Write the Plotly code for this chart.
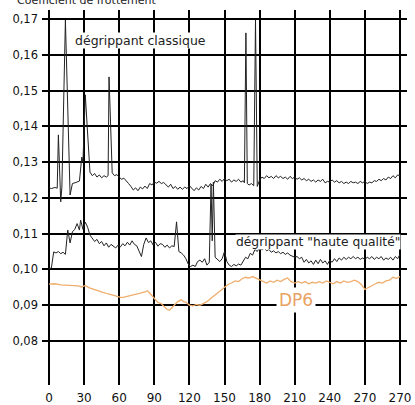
import plotly.graph_objects as go

# ---- data ----
tick_vals = [0, 30, 60, 90, 120, 150, 180, 210, 240, 270, 300]
tick_text = ["0", "30", "60", "90", "120", "150", "180", "210", "240", "270", "270"]

classique_x = [0, 2, 5, 7, 8, 10, 11, 14, 18, 20, 23, 26, 28, 29, 31, 35, 37, 39, 41, 43, 45, 47, 49, 50.5, 51.3, 54,
               56, 58, 60, 62, 64, 66, 68, 70, 72, 74, 76, 78, 80, 82, 84, 86, 88, 90, 92, 94, 96, 98, 100, 102, 104,
               106, 108, 110, 112, 114, 116, 118, 120, 122, 124, 126, 128, 130, 132, 134, 136, 138, 140, 142, 144,
               146, 148, 150, 152, 154, 156, 158, 160, 162, 164, 166, 167, 168.3, 169.5, 171, 173, 175, 176.5, 178,
               180, 182, 184, 186, 188, 190, 192, 194, 196, 198, 200, 202, 204, 206, 208, 210, 212, 214, 216, 218,
               220, 222, 224, 226, 228, 230, 232, 234, 236, 238, 240, 242, 244, 246, 248, 250, 252, 254, 256, 258,
               260, 262, 264, 266, 268, 270, 272, 274, 276, 278, 280, 282, 284, 286, 288, 290, 292, 294, 296, 298, 300]
classique_y = [0.1228, 0.1226, 0.1229, 0.1227, 0.1376, 0.1189, 0.1230, 0.1697, 0.1208, 0.1240, 0.1243, 0.1247,
               0.1314, 0.1300, 0.1488, 0.1272, 0.1262, 0.1268, 0.1258, 0.1264, 0.1256, 0.1262, 0.1258, 0.1262,
               0.1538, 0.1270, 0.1262, 0.1265, 0.1258, 0.1252, 0.1255, 0.1246, 0.1240, 0.1232, 0.1222, 0.1228,
               0.1220, 0.1230, 0.1225, 0.1233, 0.1226, 0.1240, 0.1236, 0.1244, 0.1241, 0.1246, 0.1240, 0.1243,
               0.1236, 0.1230, 0.1238, 0.1226, 0.1232, 0.1224, 0.1230, 0.1224, 0.1230, 0.1226, 0.1234, 0.1226,
               0.1220, 0.1228, 0.1222, 0.1232, 0.1226, 0.1238, 0.1230, 0.1240, 0.1234, 0.1248, 0.1244, 0.1252,
               0.1246, 0.1254, 0.1248, 0.1252, 0.1244, 0.1250, 0.1246, 0.1252, 0.1244, 0.1248, 0.1242, 0.1661,
               0.1240, 0.1236, 0.1240, 0.1234, 0.1697, 0.1232, 0.1250, 0.1258, 0.1254, 0.1262, 0.1256, 0.1260,
               0.1254, 0.1262, 0.1256, 0.1260, 0.1254, 0.1258, 0.1252, 0.1260, 0.1254, 0.1258, 0.1252, 0.1256,
               0.1250, 0.1254, 0.1248, 0.1252, 0.1246, 0.1250, 0.1244, 0.1250, 0.1246, 0.1252, 0.1242, 0.1246,
               0.1244, 0.1250, 0.1244, 0.1248, 0.1242, 0.1246, 0.1240, 0.1244, 0.1240, 0.1246, 0.1242, 0.1244,
               0.1240, 0.1246, 0.1242, 0.1246, 0.1240, 0.1244, 0.1242, 0.1248, 0.1246, 0.1252, 0.1248, 0.1254,
               0.1250, 0.1258, 0.1254, 0.1262, 0.1256, 0.1264, 0.1262]

haute_x = [0, 2, 4, 6, 8, 10, 12, 14, 16, 18, 20, 22, 24, 26, 27, 29, 31, 33, 35, 37, 39, 41, 43, 45, 47, 49, 51, 53,
           55, 57, 59, 61, 63, 65, 67, 69, 71, 73, 75, 77, 79, 81, 83, 85, 87, 89, 91, 93, 95, 97, 99, 101, 103, 105,
           107, 109, 111, 113, 115, 117, 119, 121, 123, 125, 127, 129, 131, 133, 135, 137, 138.5, 139.5, 140.5, 142,
           144, 146, 148, 150, 152, 154, 156, 158, 160, 162, 164, 166, 168, 170, 172, 174, 176, 178, 180, 182, 184,
           186, 188, 190, 192, 194, 196, 198, 200, 202, 204, 206, 208, 210, 212, 214, 216, 218, 220, 222, 224, 226,
           228, 230, 232, 234, 236, 238, 240, 242, 244, 246, 248, 250, 252, 254, 256, 258, 260, 262, 264, 266, 268,
           270, 272, 274, 276, 278, 280, 282, 284, 286, 288, 290, 292, 294, 296, 298, 300]
haute_y = [0.1002, 0.1004, 0.1049, 0.1046, 0.1050, 0.1044, 0.1048, 0.1042, 0.1110, 0.1074, 0.1105, 0.1112, 0.1128,
           0.1110, 0.1138, 0.1112, 0.1132, 0.1118, 0.1096, 0.1088, 0.1078, 0.1084, 0.1072, 0.1078, 0.1066, 0.1074,
           0.1062, 0.1070, 0.1064, 0.1060, 0.1068, 0.1063, 0.1072, 0.1066, 0.1076, 0.1068, 0.1080, 0.1070, 0.1066,
           0.1052, 0.1036, 0.1070, 0.1088, 0.1075, 0.1080, 0.1068, 0.1076, 0.1065, 0.1072, 0.1070, 0.1062, 0.1068,
           0.1060, 0.1066, 0.1064, 0.1133, 0.1050, 0.1046, 0.1040, 0.1030, 0.1015, 0.1008, 0.1012, 0.1008, 0.1022,
           0.1026, 0.1020, 0.1030, 0.1012, 0.1020, 0.1238, 0.1080, 0.1244, 0.1034, 0.1028, 0.1022, 0.1030, 0.1050,
           0.1022, 0.1012, 0.1008, 0.1014, 0.1010, 0.1015, 0.1012, 0.1022, 0.1034, 0.1030, 0.1045, 0.1040, 0.1056,
           0.1050, 0.1062, 0.1054, 0.1060, 0.1052, 0.1056, 0.1048, 0.1052, 0.1046, 0.1050, 0.1044, 0.1048, 0.1042,
           0.1046, 0.1040, 0.1036, 0.1034, 0.1036, 0.1030, 0.1034, 0.1020, 0.1028, 0.1018, 0.1024, 0.1014, 0.1026,
           0.1016, 0.1028, 0.1018, 0.1024, 0.1014, 0.1026, 0.1020, 0.1030, 0.1022, 0.1032, 0.1026, 0.1034, 0.1028,
           0.1034, 0.1030, 0.1036, 0.1030, 0.1034, 0.1028, 0.1032, 0.1028, 0.1034, 0.1030, 0.1036, 0.1028, 0.1034,
           0.1030, 0.1036, 0.1026, 0.1032, 0.1028, 0.1034, 0.1026, 0.1036, 0.1030, 0.1042]

dp6_x = [0, 5, 10, 15, 20, 25, 28, 31, 34, 38, 42, 46, 50, 54, 58, 62, 66, 70, 74, 78, 82, 84, 86, 90, 93, 96, 99,
         101, 103, 105, 107, 110, 113, 115, 117, 120, 123, 126, 129, 132, 135, 138, 141, 144, 147, 150, 153, 156,
         159, 162, 165, 168, 171, 174, 177, 180, 183, 186, 189, 192, 195, 198, 201, 204, 207, 210, 213, 216, 219,
         222, 225, 228, 231, 234, 237, 240, 243, 246, 249, 252, 255, 258, 261, 264, 267, 270, 273, 276, 279, 282,
         285, 288, 291, 294, 297, 300]
dp6_y = [0.0959, 0.0960, 0.0957, 0.0956, 0.0953, 0.0954, 0.0951, 0.0955, 0.0949, 0.0944, 0.0940, 0.0936, 0.0932,
         0.0928, 0.0925, 0.0921, 0.0924, 0.0928, 0.0930, 0.0934, 0.0937, 0.0940, 0.0934, 0.0920, 0.0908, 0.0904,
         0.0896, 0.0888, 0.0886, 0.0893, 0.0900, 0.0910, 0.0915, 0.0910, 0.0908, 0.0900, 0.0898, 0.0902, 0.0900,
         0.0904, 0.0910, 0.0918, 0.0926, 0.0934, 0.0942, 0.0950, 0.0958, 0.0962, 0.0968, 0.0966, 0.0974, 0.0978,
         0.0976, 0.0980, 0.0975, 0.0970, 0.0966, 0.0962, 0.0968, 0.0964, 0.0970, 0.0966, 0.0972, 0.0976, 0.0966,
         0.0962, 0.0966, 0.0962, 0.0966, 0.0960, 0.0964, 0.0962, 0.0966, 0.0962, 0.0968, 0.0964, 0.0960, 0.0966,
         0.0962, 0.0968, 0.0964, 0.0966, 0.0970, 0.0966, 0.0958, 0.0944, 0.0950, 0.0956, 0.0960, 0.0964, 0.0962,
         0.0968, 0.0970, 0.0978, 0.0975, 0.0980]

y_ticks = [0.08, 0.09, 0.10, 0.11, 0.12, 0.13, 0.14, 0.15, 0.16, 0.17]

# ---- figure ----
fig = go.Figure()
fig.add_trace(go.Scatter(x=classique_x, y=classique_y, mode="lines",
                         line=dict(color="#222222", width=1), showlegend=False))
fig.add_trace(go.Scatter(x=haute_x, y=haute_y, mode="lines",
                         line=dict(color="#222222", width=1), showlegend=False))
fig.add_trace(go.Scatter(x=dp6_x, y=dp6_y, mode="lines",
                         line=dict(color="#EFAE6E", width=1.3), showlegend=False))

font_family = "DejaVu Sans"
fig.update_layout(
    width=415, height=405,
    margin=dict(l=42, r=8, t=10, b=20),
    paper_bgcolor="white", plot_bgcolor="white",
    separators=", ",
    font=dict(family=font_family, size=11, color="#111111"),
    xaxis=dict(range=[-6, 306], tickvals=tick_vals, ticktext=tick_text,
               showgrid=True, gridcolor="#000000", gridwidth=1.6,
               zeroline=False, showline=False, ticks="", automargin=False,
               ticklabelstandoff=4, tickfont=dict(size=12)),
    yaxis=dict(range=[0.0677, 0.1725], tickvals=y_ticks, tickformat=".2f",
               showgrid=True, gridcolor="#000000", gridwidth=1.6,
               zeroline=False, showline=False, ticks="", automargin=False,
               ticklabelstandoff=3, tickfont=dict(size=11.5)),
    annotations=[
        dict(text="Coefficient de frottement", xref="paper", yref="paper",
             x=-0.075, y=1.024, xanchor="left", yanchor="middle", showarrow=False,
             font=dict(size=11, color="#222222")),
        dict(text="dégrippant classique", x=78, y=0.1641, xref="x", yref="y",
             showarrow=False, bgcolor="white", borderpad=0,
             font=dict(size=12.5, color="#222222")),
        dict(text="dégrippant \"haute qualité\"", x=230, y=0.1077, xref="x", yref="y",
             showarrow=False, bgcolor="white", borderpad=0,
             font=dict(size=12.3, color="#222222")),
        dict(text="DP6", x=211, y=0.0915, xref="x", yref="y",
             showarrow=False, bgcolor="white", borderpad=2,
             font=dict(size=17, color="#E9A262")),
    ],
)

fig.write_html("out.html", config={"displayModeBar": False},
               post_script="document.body.style.margin='0';document.body.style.overflow='hidden';")
